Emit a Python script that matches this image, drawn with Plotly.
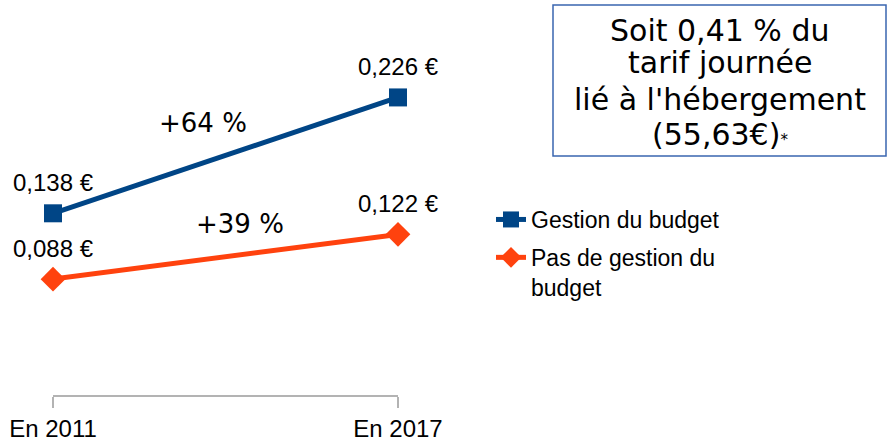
import plotly.graph_objects as go

categories = ["En 2011", "En 2017"]
gestion = [0.138, 0.226]
pas_gestion = [0.088, 0.122]
gestion_labels = ["0,138 €", "0,226 €"]
pas_labels = ["0,088 €", "0,122 €"]
series_names = ["Gestion du budget", "Pas de gestion du<br>budget"]
pct_labels = ["+64 %", "+39 %"]
pct_pos = [(0.435, 0.2064), (0.542, 0.1298)]
box_lines = ["Soit 0,41 % du", "tarif journée", "lié à l'hébergement",
             "(55,63€)<span style='font-size:15px'>*</span>"]
box_line_y = [30.5, 62.5, 99.5, 134.5]

BLUE = "#004586"
ORANGE = "#ff420e"
FONT = "Liberation Sans"
L, PW, PH = 53, 345, 395

fig = go.Figure()
fig.add_trace(go.Scatter(
    x=[0, 1], y=gestion, name=series_names[0], mode="lines+markers",
    legendgroup="a", cliponaxis=False,
    line=dict(color=BLUE, width=5),
    marker=dict(symbol="square", size=18, color=BLUE)))
fig.add_trace(go.Scatter(
    x=[0, 1], y=pas_gestion, name=series_names[1], mode="lines+markers",
    legendgroup="b", cliponaxis=False,
    line=dict(color=ORANGE, width=5),
    marker=dict(symbol="diamond", size=19, color=ORANGE)))

for vals, labs in [(gestion, gestion_labels), (pas_gestion, pas_labels)]:
    for i, (v, t) in enumerate(zip(vals, labs)):
        fig.add_annotation(x=i, y=v, text=t, showarrow=False, yshift=31,
                           font=dict(family=FONT, size=24, color="black"))

for t, (px, py) in zip(pct_labels, pct_pos):
    fig.add_annotation(x=px, y=py, text=t, showarrow=False,
                       font=dict(family="DejaVu Sans", size=26, color="black"))

# text box
fig.add_shape(type="rect", xref="paper", yref="paper",
              x0=(553 - L) / PW, x1=(886 - L) / PW,
              y0=(PH - 156) / PH, y1=(PH - 5) / PH,
              line=dict(color="#3a66b0", width=1.5), fillcolor="rgba(0,0,0,0)")
for t, yy in zip(box_lines, box_line_y):
    fig.add_annotation(xref="paper", yref="paper", x=(719.5 - L) / PW, y=(PH - yy) / PH,
                       text=t, showarrow=False, xanchor="center", yanchor="middle",
                       font=dict(family="DejaVu Sans", size=30, color="black"))

fig.update_layout(
    width=890, height=439,
    margin=dict(l=L, r=890 - L - PW, t=0, b=439 - PH, autoexpand=False),
    paper_bgcolor="white", plot_bgcolor="white",
    showlegend=True,
    legend=dict(x=(491 - L) / PW, xanchor="left", y=(PH - 198) / PH, yanchor="top",
                font=dict(family=FONT, size=23, color="black"),
                valign="top", bgcolor="rgba(0,0,0,0)", tracegroupgap=5,
                itemwidth=30),
    xaxis=dict(range=[0, 1], tickvals=[0, 1], ticktext=categories,
               showgrid=False, zeroline=False, showline=True,
               linecolor="#b3b3b3", linewidth=1.5, ticks="outside", ticklen=11,
               tickcolor="#b3b3b3", tickwidth=1.5,
               tickfont=dict(family=FONT, size=24, color="black")),
    yaxis=dict(range=[0, 0.3], visible=False, showgrid=False, zeroline=False),
)

fig.write_html("out.html", config={"displayModeBar": False},
               post_script="document.body.style.margin='0';")
